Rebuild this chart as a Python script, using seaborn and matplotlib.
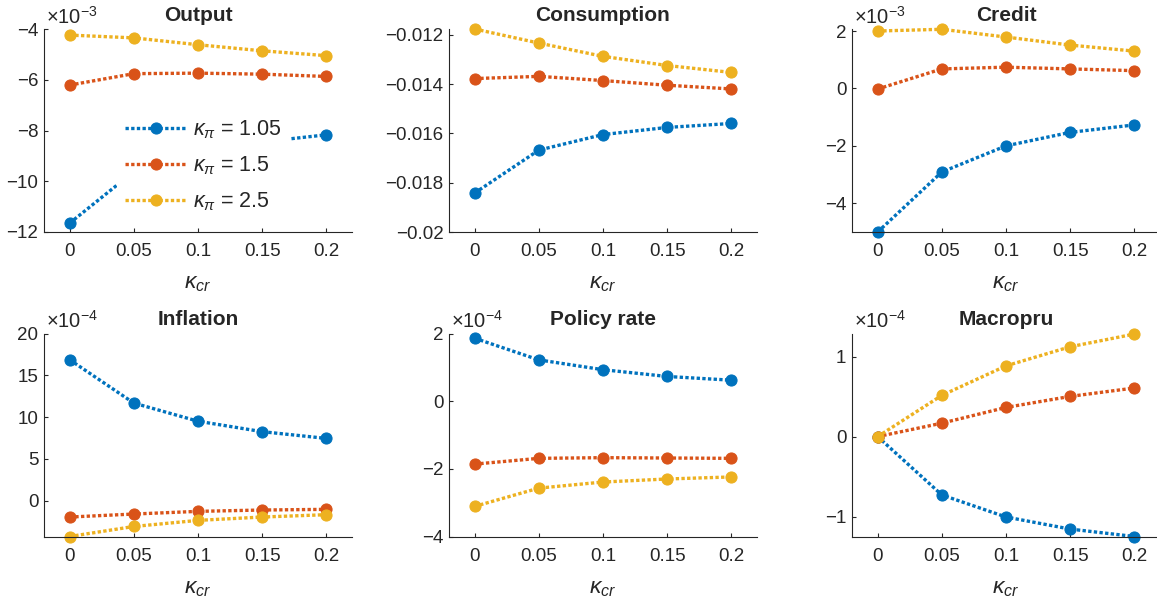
import numpy as np
import pandas as pd
import matplotlib
matplotlib.use("Agg")
import matplotlib.pyplot as plt
import seaborn as sns
from matplotlib.ticker import FuncFormatter

# x values and series labels
kappa_cr = [0, 0.05, 0.1, 0.15, 0.2]
kappa_pi = ["1.05", "1.5", "2.5"]

output_105 = [-11.65e-3, -9.62e-3, -8.90e-3, -8.45e-3, -8.17e-3]
output_15 = [-6.21e-3, -5.76e-3, -5.74e-3, -5.78e-3, -5.87e-3]
output_25 = [-4.24e-3, -4.35e-3, -4.62e-3, -4.86e-3, -5.05e-3]

cons_105 = [-0.01842, -0.01668, -0.01605, -0.01576, -0.01560]
cons_15 = [-0.01378, -0.01369, -0.01386, -0.01405, -0.01420]
cons_25 = [-0.01177, -0.01234, -0.01288, -0.01325, -0.01353]

credit_105 = [-5.00e-3, -2.91e-3, -2.00e-3, -1.53e-3, -1.27e-3]
credit_15 = [-0.02e-3, 0.68e-3, 0.74e-3, 0.68e-3, 0.62e-3]
credit_25 = [2.00e-3, 2.06e-3, 1.79e-3, 1.51e-3, 1.30e-3]

infl_105 = [16.86e-4, 11.67e-4, 9.50e-4, 8.25e-4, 7.44e-4]
infl_15 = [-1.97e-4, -1.61e-4, -1.29e-4, -1.13e-4, -1.05e-4]
infl_25 = [-4.30e-4, -3.10e-4, -2.37e-4, -1.97e-4, -1.69e-4]

rate_105 = [1.86e-4, 1.22e-4, 0.93e-4, 0.73e-4, 0.62e-4]
rate_15 = [-1.86e-4, -1.69e-4, -1.67e-4, -1.68e-4, -1.69e-4]
rate_25 = [-3.11e-4, -2.57e-4, -2.39e-4, -2.30e-4, -2.24e-4]

macro_105 = [0.0, -0.73e-4, -1.006e-4, -1.157e-4, -1.25e-4]
macro_15 = [0.0, 0.168e-4, 0.365e-4, 0.503e-4, 0.608e-4]
macro_25 = [0.0, 0.516e-4, 0.885e-4, 1.124e-4, 1.283e-4]

panels = [
    ("Output", [output_105, output_15, output_25], 1e-3, (-12e-3, -4e-3), [-12e-3, -10e-3, -8e-3, -6e-3, -4e-3]),
    ("Consumption", [cons_105, cons_15, cons_25], 1, (-0.02, -0.01177), [-0.02, -0.018, -0.016, -0.014, -0.012]),
    ("Credit", [credit_105, credit_15, credit_25], 1e-3, (-5.0e-3, 2.07e-3), [-4e-3, -2e-3, 0, 2e-3]),
    ("Inflation", [infl_105, infl_15, infl_25], 1e-4, (-4.3e-4, 20e-4), [0, 5e-4, 10e-4, 15e-4, 20e-4]),
    ("Policy rate", [rate_105, rate_15, rate_25], 1e-4, (-4e-4, 2e-4), [-4e-4, -2e-4, 0, 2e-4]),
    ("Macropru", [macro_105, macro_15, macro_25], 1e-4, (-1.25e-4, 1.29e-4), [-1e-4, 0, 1e-4]),
]

colors = ["#0072BD", "#D95319", "#EDB120"]

sns.set_style("ticks")
plt.rcParams["font.family"] = ["Liberation Sans", "DejaVu Sans"]
plt.rcParams["mathtext.fontset"] = "custom"
plt.rcParams["mathtext.rm"] = "Liberation Sans"
plt.rcParams["mathtext.it"] = "Liberation Sans:italic"

W, H = 1157, 606
fig = plt.figure(figsize=(W / 100, H / 100), dpi=100)

lefts = [44, 449, 852]
tops = [29, 333.5]
aw, ah = 308, 203
dark = "#262626"


def fmt(v):
    return f"{round(v, 6):g}".replace("-", "\u2212")


for i, (title, series, scale, ylim, yticks) in enumerate(panels):
    r, c = divmod(i, 3)
    ax = fig.add_axes([lefts[c] / W, 1 - (tops[r] + ah) / H, aw / W, ah / H])
    for vals, col, lab in zip(series, colors, kappa_pi):
        df = pd.DataFrame({"kcr": kappa_cr, "v": vals})
        sns.lineplot(data=df, x="kcr", y="v", ax=ax, color=col, marker="o",
                     markersize=8, markeredgecolor=col, linewidth=2.4,
                     linestyle=(0, (1, 0.7)), label=r"$\kappa_\pi$ = " + lab,
                     legend=False, clip_on=False)
    ax.set_xlim(-0.02, 0.22)
    ax.set_ylim(*ylim)
    ax.set_xticks(kappa_cr)
    ax.set_yticks(yticks)
    ax.xaxis.set_major_formatter(FuncFormatter(lambda v, p: fmt(v)))
    ax.yaxis.set_major_formatter(FuncFormatter(lambda v, p, s=scale: fmt(v / s)))
    for s in ["top", "right"]:
        ax.spines[s].set_visible(False)
    for s in ["left", "bottom"]:
        ax.spines[s].set_color(dark)
        ax.spines[s].set_linewidth(0.8)
    ax.tick_params(direction="in", length=3, width=0.8, colors=dark, labelsize=13.5)
    ax.tick_params(axis="y", pad=4)
    ax.tick_params(axis="x", pad=8)
    ax.set_xlabel(r"$\kappa_{cr}$", fontsize=16.5, color=dark, labelpad=8)
    ax.set_ylabel("")
    ax.set_title(title, fontsize=15, fontweight="bold", pad=6)
    if scale != 1:
        exp = int(round(np.log10(scale)))
        ax.text(0.005, 1.008, r"$\times10^{%d}$" % exp, transform=ax.transAxes,
                ha="left", va="bottom", fontsize=14.5, color=dark)
    if i == 0:
        ax.legend(loc="upper left", bbox_to_anchor=(0.237, 0.595), frameon=True,
                  facecolor="white", edgecolor="none", framealpha=1, fontsize=15.5,
                  handlelength=2.9, handletextpad=0.3, borderpad=0.35,
                  labelspacing=0.62, borderaxespad=0)

fig.savefig("out.png", dpi=100)
